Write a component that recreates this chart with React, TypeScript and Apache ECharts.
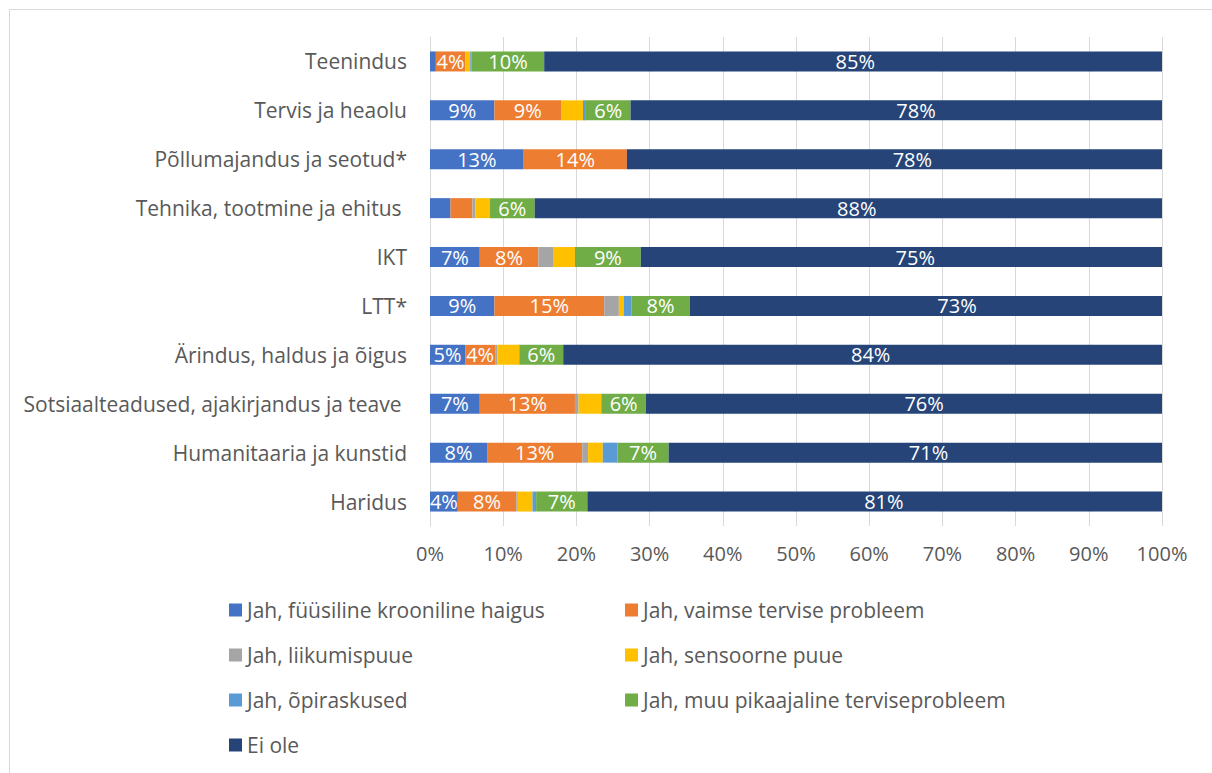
import React, { useEffect, useRef } from "react";
import * as echarts from "echarts";

const categories = [
  "Teenindus",
  "Tervis ja heaolu",
  "Põllumajandus ja seotud*",
  "Tehnika, tootmine ja ehitus ",
  "IKT",
  "LTT*",
  "Ärindus, haldus ja õigus",
  "Sotsiaalteadused, ajakirjandus ja teave ",
  "Humanitaaria ja kunstid",
  "Haridus",
];

const fyysiline = [0.8, 8.8, 12.8, 2.8, 6.8, 8.8, 4.8, 6.8, 7.8, 3.8];
const vaimne = [4.0, 9.1, 14.1, 3.0, 8.0, 15.0, 4.1, 13.0, 13.0, 8.0];
const liikumis = [0, 0, 0, 0.4, 2.0, 2.0, 0.3, 0.5, 0.8, 0.2];
const sensoorne = [0.7, 3.0, 0, 2.0, 3.0, 0.7, 3.0, 3.1, 2.0, 2.0];
const opiraskused = [0.2, 0.4, 0, 0, 0, 1.0, 0, 0, 2.0, 0.5];
const muu = [9.9, 6.1, 0, 6.1, 9.0, 8.0, 6.0, 6.1, 7.0, 7.0];
const eiOle = [85, 78, 78, 88, 75, 73, 84, 76, 71, 81];

const xTicks = [0, 10, 20, 30, 40, 50, 60, 70, 80, 90, 100];

const seriesDefs = [
  { name: "Jah, füüsiline krooniline haigus", data: fyysiline, color: "#4472C4" },
  { name: "Jah, vaimse tervise probleem", data: vaimne, color: "#ED7D31" },
  { name: "Jah, liikumispuue", data: liikumis, color: "#A5A5A5" },
  { name: "Jah, sensoorne puue", data: sensoorne, color: "#FFC000" },
  { name: "Jah, õpiraskused", data: opiraskused, color: "#5B9BD5" },
  { name: "Jah, muu pikaajaline terviseprobleem", data: muu, color: "#70AD47" },
  { name: "Ei ole", data: eiOle, color: "#264478" },
];

const FONT = "Open Sans";

export default function App() {
  const ref = useRef<HTMLDivElement>(null);
  useEffect(() => {
    document.body.style.margin = "0";
    if (!ref.current) return;
    const chart = echarts.init(ref.current, null, { renderer: "svg" });

    const labelFmt = (p: any) => (p.value >= 3.5 ? Math.round(p.value) + "%" : "");
    const barLabel = {
      position: "inside",
      color: "#fff",
      fontSize: 20,
      fontFamily: FONT,
      formatter: labelFmt,
    };

    const mainSeries = seriesDefs.map((s, i) => ({
      name: s.name,
      type: "bar",
      stack: "total",
      barWidth: 20,
      barGap: "-100%",
      data: s.data,
      itemStyle: { color: s.color },
      label: { show: i < 6, ...barLabel },
    }));

    // invisible overlay so that the "Ei ole" label sits at the centre of its full (unclipped) bar
    const offsets = categories.map((_, k) =>
      seriesDefs.slice(0, 6).reduce((acc, s) => acc + s.data[k], 0)
    );
    const overlay = [
      {
        name: "_offset",
        type: "bar",
        stack: "lbl",
        barWidth: 20,
        barGap: "-100%",
        silent: true,
        data: offsets,
        itemStyle: { color: "rgba(0,0,0,0)" },
        label: { show: false },
      },
      {
        name: "_eiLabel",
        type: "bar",
        stack: "lbl",
        barWidth: 20,
        barGap: "-100%",
        silent: true,
        clip: false,
        data: eiOle,
        itemStyle: { color: "rgba(0,0,0,0)" },
        label: { show: true, ...barLabel },
      },
    ];

    const legendText = { color: "#595959", fontSize: 21, fontFamily: FONT, lineHeight: 24 };

    chart.setOption({
      animation: false,
      backgroundColor: "#fff",
      textStyle: { fontFamily: FONT },
      grid: { left: 430, right: 50, top: 37, height: 489 },
      xAxis: {
        type: "value",
        min: xTicks[0],
        max: xTicks[xTicks.length - 1],
        interval: 10,
        axisLine: { show: false },
        axisTick: { show: false },
        axisLabel: {
          formatter: "{value}%",
          color: "#595959",
          fontSize: 20,
          fontFamily: FONT,
          margin: 17,
        },
        splitLine: { lineStyle: { color: "#d9d9d9", width: 1 } },
      },
      yAxis: {
        type: "category",
        inverse: true,
        data: categories,
        axisLine: { show: true, lineStyle: { color: "#d9d9d9" } },
        axisTick: { show: false },
        axisLabel: {
          color: "#595959",
          fontSize: 21,
          fontFamily: FONT,
          margin: 23,
        },
      },
      legend: [
        {
          orient: "vertical",
          left: 224,
          top: 593,
          icon: "rect",
          itemWidth: 13,
          itemHeight: 13,
          itemGap: 21,
          textStyle: legendText,
          data: [seriesDefs[0].name, seriesDefs[2].name, seriesDefs[4].name, seriesDefs[6].name],
        },
        {
          orient: "vertical",
          left: 620,
          top: 593,
          icon: "rect",
          itemWidth: 13,
          itemHeight: 13,
          itemGap: 21,
          textStyle: legendText,
          data: [seriesDefs[1].name, seriesDefs[3].name, seriesDefs[5].name],
        },
      ],
      graphic: [
        {
          type: "rect",
          left: 7,
          top: 7,
          shape: { width: 1210, height: 800 },
          style: { fill: "none", stroke: "#d9d9d9", lineWidth: 1 },
          silent: true,
        },
      ],
      series: [...mainSeries, ...overlay],
    });
    return () => chart.dispose();
  }, []);
  return <div ref={ref} style={{ width: 1212, height: 773 }} />;
}
